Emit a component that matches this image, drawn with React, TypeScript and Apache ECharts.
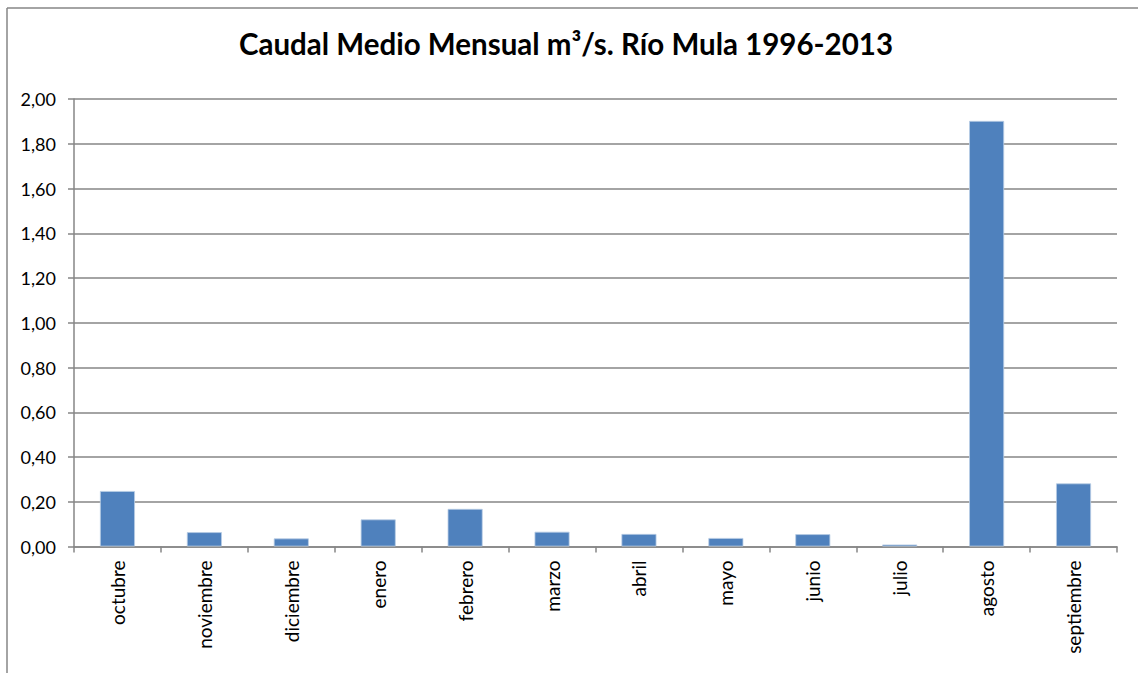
import React, { useEffect, useRef } from "react";
import * as echarts from "echarts";

const categories = [
  "octubre", "noviembre", "diciembre", "enero", "febrero", "marzo",
  "abril", "mayo", "junio", "julio", "agosto", "septiembre",
];
const caudal = [0.248, 0.064, 0.036, 0.121, 0.168, 0.066, 0.056, 0.038, 0.055, 0.009, 1.902, 0.282];
const titleText = "Caudal Medio Mensual m³/s. Río Mula 1996-2013";

export default function App() {
  const ref = useRef<HTMLDivElement>(null);
  useEffect(() => {
    if (!ref.current) return;
    const chart = echarts.init(ref.current, null, { renderer: "svg" });
    const font = "Lato, 'Open Sans', sans-serif";
    chart.setOption({
      animation: false,
      backgroundColor: "#ffffff",
      title: {
        text: titleText,
        left: 234,
        top: 23,
        textStyle: { fontFamily: font, fontWeight: "bold", fontSize: 29.5, color: "#000" },
      },
      grid: { left: 74, right: 21, top: 99, bottom: 126.5, containLabel: false },
      xAxis: {
        type: "category",
        data: categories,
        boundaryGap: true,
        axisLine: { lineStyle: { color: "#868686", width: 1.5 } },
        axisTick: { show: true, alignWithLabel: false, length: 6, lineStyle: { color: "#868686", width: 1.5 } },
        axisLabel: { rotate: 90, margin: 14, fontFamily: font, fontSize: 19, color: "#000", interval: 0 },
      },
      yAxis: {
        type: "value",
        min: 0,
        max: 2,
        interval: 0.2,
        axisLine: { show: true, lineStyle: { color: "#868686", width: 1.5 } },
        axisTick: { show: true, length: 6, lineStyle: { color: "#868686", width: 1.5 } },
        splitLine: { show: true, lineStyle: { color: "#868686", width: 1.5 } },
        axisLabel: {
          margin: 18,
          fontFamily: font,
          fontSize: 18,
          color: "#000",
          formatter: (v: number) => v.toFixed(2).replace(".", ","),
        },
      },
      series: [
        {
          type: "bar",
          data: caudal,
          barWidth: 35,
          itemStyle: { color: "#4F81BD", borderColor: "#B9CDE5", borderWidth: 0.8 },
        },
      ],
      graphic: [
        { type: "line", shape: { x1: 7, y1: 8, x2: 1138, y2: 8 }, style: { stroke: "#868686", lineWidth: 1.5 } },
        { type: "line", shape: { x1: 7, y1: 8, x2: 7, y2: 673 }, style: { stroke: "#868686", lineWidth: 1.5 } },
      ],
    });
    return () => chart.dispose();
  }, []);
  return (
    <div style={{ position: "absolute", left: 0, top: 0, width: 1138, height: 673 }}>
      <div ref={ref} style={{ width: 1138, height: 673 }} />
    </div>
  );
}
